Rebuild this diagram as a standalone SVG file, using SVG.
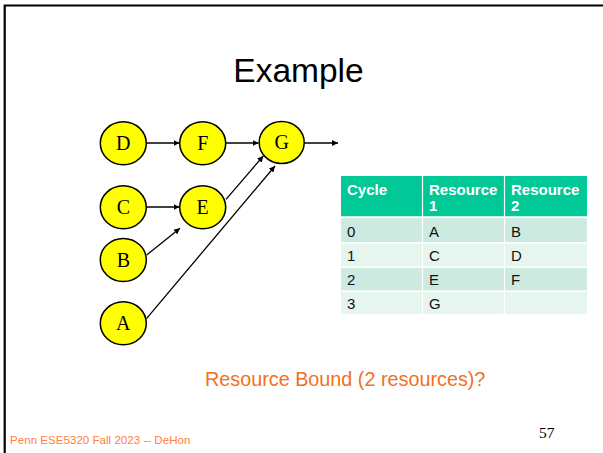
<svg xmlns="http://www.w3.org/2000/svg" width="603" height="453" viewBox="0 0 603 453">
<defs>
<style>
.node ellipse{fill:#ffff00;stroke:#000;stroke-width:1.5}
.node text{font-family:"Liberation Serif","Times New Roman",serif;font-size:20px;text-anchor:middle;fill:#000}
.edge{stroke:#000;stroke-width:1.3;fill:none;marker-end:url(#ah)}
.th{font-family:"Liberation Sans",Arial,sans-serif;font-size:15px;font-weight:bold;fill:#fff}
.td{font-family:"Liberation Sans",Arial,sans-serif;font-size:15px;fill:#111}
</style>
<marker id="ah" viewBox="0 0 10 10" refX="10" refY="5" markerWidth="6" markerHeight="6" markerUnits="userSpaceOnUse" orient="auto">
<path d="M0,0 L10,5 L0,10 z" fill="#000"/>
</marker>
</defs>
<rect width="603" height="453" fill="#fff"/>
<path d="M4.7,453 V5.5 H603" fill="none" stroke="#000" stroke-width="2.2"/>
<text x="298.5" y="82.3" font-family="'Liberation Sans',Arial,sans-serif" font-size="33.5" text-anchor="middle" fill="#000">Example</text>

<g id="connectors">
<line class="edge" x1="146" y1="143" x2="179.5" y2="143"/>
<line class="edge" x1="226" y1="143" x2="258.5" y2="143"/>
<line class="edge" x1="304" y1="143" x2="338" y2="143"/>
<line class="edge" x1="146" y1="207" x2="179.5" y2="207"/>
<line class="edge" x1="146.7" y1="255" x2="180" y2="228.3"/>
<line class="edge" x1="226" y1="199.3" x2="263.3" y2="156"/>
<line class="edge" x1="146.7" y1="318.3" x2="275" y2="166"/>
</g>

<g id="node-D" class="node"><ellipse cx="123.3" cy="143.3" rx="23" ry="21.5"/><text x="123.3" y="150">D</text></g>
<g id="node-F" class="node"><ellipse cx="202.7" cy="143.3" rx="23" ry="21.5"/><text x="202.7" y="150">F</text></g>
<g id="node-G" class="node"><ellipse cx="281.7" cy="142.5" rx="22.5" ry="21"/><text x="281.7" y="149.2">G</text></g>
<g id="node-C" class="node"><ellipse cx="123.3" cy="207.3" rx="23" ry="21.5"/><text x="123.3" y="214">C</text></g>
<g id="node-E" class="node"><ellipse cx="202.7" cy="207.3" rx="23" ry="21.5"/><text x="202.7" y="214">E</text></g>
<g id="node-B" class="node"><ellipse cx="123.3" cy="260" rx="23" ry="21.5"/><text x="123.3" y="266.7">B</text></g>
<g id="node-A" class="node"><ellipse cx="123.3" cy="323.3" rx="23" ry="21.5"/><text x="123.3" y="330">A</text></g>

<g id="table">
<rect x="341" y="176" width="246" height="41" fill="#00c896"/>
<rect x="341" y="218" width="246" height="24.3" fill="#cceadf"/>
<rect x="341" y="243.3" width="246" height="23.4" fill="#e7f5ef"/>
<rect x="341" y="267.7" width="246" height="23" fill="#cceadf"/>
<rect x="341" y="291.7" width="246" height="22.3" fill="#e7f5ef"/>
<g stroke="#fff" stroke-width="1.2">
<line x1="422.5" y1="176" x2="422.5" y2="314"/>
<line x1="504.5" y1="176" x2="504.5" y2="314"/>
<line x1="341" y1="217.3" x2="587" y2="217.3" stroke-width="2"/>
<line x1="341" y1="242.8" x2="587" y2="242.8"/>
<line x1="341" y1="267.2" x2="587" y2="267.2"/>
<line x1="341" y1="291.2" x2="587" y2="291.2"/>
</g>
<text class="th" x="347" y="195">Cycle</text>
<text class="th" x="429" y="195">Resource</text>
<text class="th" x="429" y="210.5">1</text>
<text class="th" x="511" y="195">Resource</text>
<text class="th" x="511" y="210.5">2</text>
<text class="td" x="347" y="236.7">0</text><text class="td" x="429" y="236.7">A</text><text class="td" x="511" y="236.7">B</text>
<text class="td" x="347" y="260.7">1</text><text class="td" x="429" y="260.7">C</text><text class="td" x="511" y="260.7">D</text>
<text class="td" x="347" y="285">2</text><text class="td" x="429" y="285">E</text><text class="td" x="511" y="285">F</text>
<text class="td" x="347" y="309">3</text><text class="td" x="429" y="309">G</text>
</g>

<text x="205" y="385.7" font-family="'Liberation Sans',Arial,sans-serif" font-size="19.8" fill="#f37021">Resource Bound (2 resources)?</text>
<text x="10" y="444.3" font-family="'Liberation Sans',Arial,sans-serif" font-size="11.6" fill="#ff8040">Penn ESE5320 Fall 2023 -- DeHon</text>
<text x="539" y="438.3" font-family="'Liberation Serif','Times New Roman',serif" font-size="15.5" fill="#000">57</text>
</svg>
